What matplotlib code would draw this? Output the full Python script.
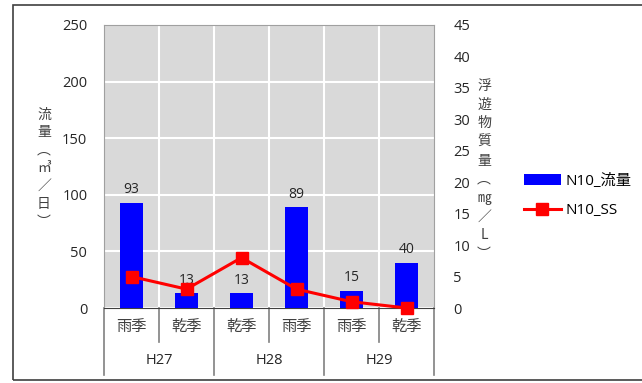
import matplotlib.pyplot as plt
from matplotlib.patches import Rectangle

plt.rcParams['font.family'] = ['Open Sans', 'Noto Sans CJK JP', 'DejaVu Sans']

# data
seasons = ['雨季', '乾季', '乾季', '雨季', '雨季', '乾季']
years = ['H27', 'H28', 'H29']
flow = [93, 13, 13, 89, 15, 40]
ss = [5, 3, 8, 3, 1, 0]

fig = plt.figure(figsize=(6.42, 3.83), dpi=100)
W, H = 642, 383

# outer chart frame
fig.patches.append(Rectangle((13 / W, 1 - 380 / H), 1.0, (380 - 5) / H,
                             transform=fig.transFigure, fill=False,
                             edgecolor='#404040', linewidth=1.2))

ax = fig.add_axes([104 / W, 1 - 308 / H, (434 - 104) / W, (308 - 25) / H])
ax.set_facecolor('#d9d9d9')
x = list(range(len(flow)))

bars = ax.bar(x, flow, width=0.41, color='#0000ff', zorder=3, label='N10_流量')
for xi, v in zip(x, flow):
    ax.text(xi, v + 5, str(v), ha='center', va='bottom', fontsize=10,
            color='#262626', zorder=6)

ax.set_xlim(-0.5, len(flow) - 0.5)
ax.set_ylim(0, 250)
ax.set_yticks(range(0, 251, 50))
ax.grid(axis='y', color='white', linewidth=1.5, zorder=1)
for b in [i + 0.5 for i in range(len(flow) - 1)]:
    ax.axvline(b, color='white', linewidth=1.5, zorder=1)

ax.set_xticks([])
ax.tick_params(axis='y', length=0, labelsize=10.5, pad=12, labelcolor='#262626')
for s in ['left', 'right', 'top']:
    ax.spines[s].set_color('#a0a0a0')
ax.spines['bottom'].set_color('#404040')

ax2 = ax.twinx()
line, = ax2.plot(x, ss, color='#ff0000', linewidth=2.2, marker='s',
                 markersize=9, zorder=5, label='N10_SS', clip_on=False)
ax2.set_ylim(0, 45)
ax2.set_yticks(range(0, 46, 5))
ax2.tick_params(axis='y', length=0, labelsize=10.5, pad=14, labelcolor='#262626')
for s in ax2.spines.values():
    s.set_visible(False)
ax.set_zorder(1)
ax2.set_zorder(2)

# multi-level category axis
tr = ax.get_xaxis_transform()
for xi, s in zip(x, seasons):
    ax.text(xi, -0.068, s, transform=tr, ha='center', va='center',
            fontsize=11, color='#404040')
for i, yr in enumerate(years):
    ax.text(2 * i + 0.5, -0.185, yr, transform=tr, ha='center', va='center',
            fontsize=10.5, color='#262626')
for k in range(len(flow) + 1):
    b = k - 0.5
    bottom = -0.237 if k % 2 == 0 else -0.12
    ax.plot([b, b], [0, bottom], transform=tr, color='#808080',
            linewidth=1.2, clip_on=False)

# vertical axis titles
fig.text(44 / W, 1 - 168 / H, '\n'.join('流量︵㎥／日︶'), ha='center',
         va='center', fontsize=10, linespacing=1.35, color='#404040',
         family=['Noto Sans CJK JP'])
fig.text(484 / W, 1 - 170 / H, '\n'.join('浮遊物質量︵㎎／L︶'), ha='center',
         va='center', fontsize=10, linespacing=1.42, color='#404040',
         family=['Noto Sans CJK JP'])

fig.legend(handles=[bars, line], loc='upper left',
           bbox_to_anchor=(518 / W, 1 - 168 / H), frameon=False,
           fontsize=11, handlelength=2.4, labelspacing=0.9, handletextpad=0.3,
           borderaxespad=0)

fig.savefig('out.png', dpi=100)
